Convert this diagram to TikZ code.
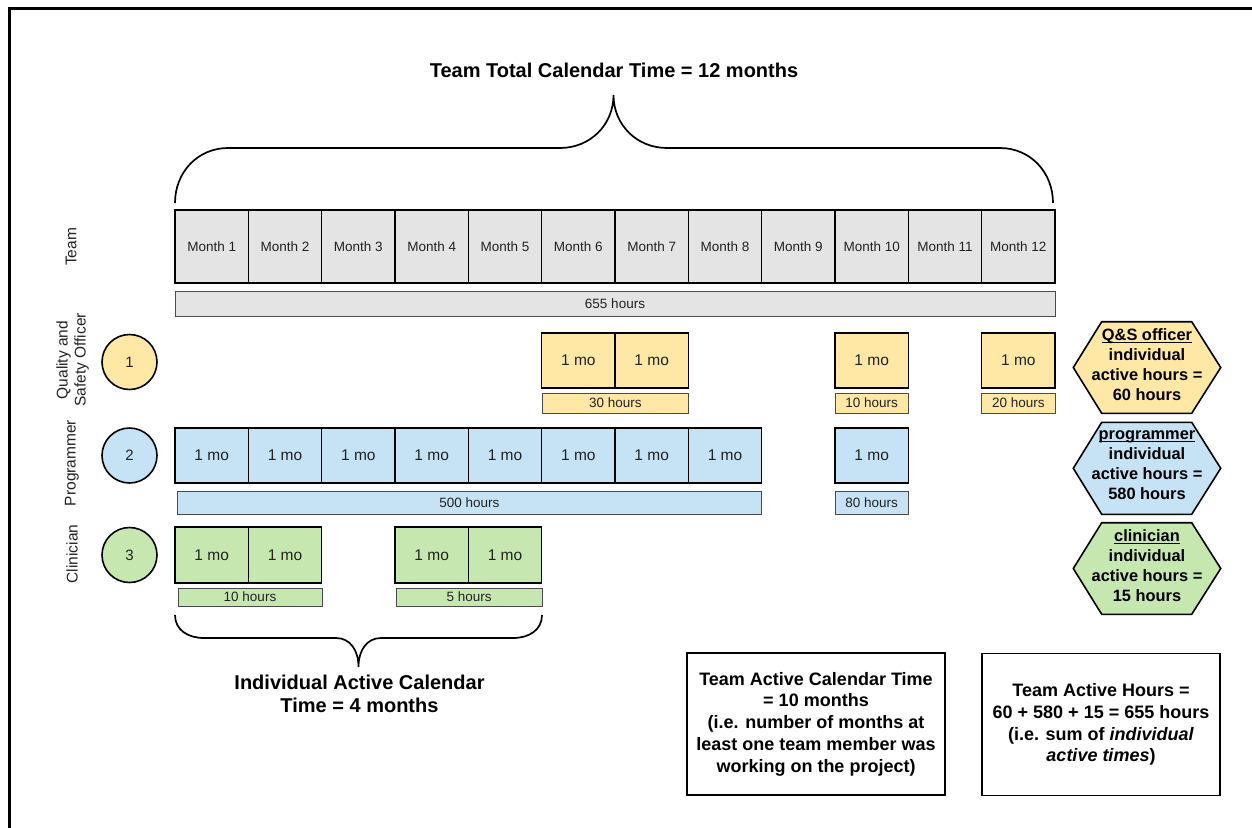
\documentclass[tikz,border=0pt]{standalone}
\usepackage{fontspec}
\setmainfont{Liberation Sans}
\definecolor{greyF}{HTML}{E4E4E4}
\definecolor{yelF}{HTML}{FFE8A6}
\definecolor{bluF}{HTML}{C6E3F6}
\definecolor{grnF}{HTML}{C6E8B0}
\definecolor{barline}{HTML}{4A4A4A}
\definecolor{txt}{HTML}{222222}
\newcommand{\hexul}[1]{\underline{\raisebox{0pt}[\height][0pt]{#1}}}
\tikzset{
  mbox/.style={draw=black, line width=1.6pt, fill=greyF, minimum width=73.33pt, minimum height=73pt, inner sep=0pt, font=\fontsize{13.5}{16}\selectfont, text=txt},
  cell/.style={draw=black, line width=1.6pt, minimum width=73.33pt, minimum height=55pt, inner sep=0pt, font=\fontsize{15.5}{18}\selectfont, text=txt},
  bar/.style={draw=barline, line width=0.9pt, inner sep=0pt, font=\fontsize{13.5}{16}\selectfont, text=txt},
  person/.style={circle, draw=black, line width=1.6pt, minimum size=55pt, inner sep=0pt, font=\fontsize{15}{18}\selectfont, text=txt},
  rolelabel/.style={rotate=90, align=center, font=\fontsize{15.5}{18}\selectfont, text=txt},
  hexline/.style={draw=black, line width=1.6pt},
  hextext/.style={align=center, inner sep=0pt, font=\fontsize{16.4}{20}\selectfont\bfseries},
  infobox/.style={draw=black, line width=1.6pt, align=center, minimum height=142pt, inner sep=0pt, font=\fontsize{18}{21.8}\selectfont\bfseries},
  brace/.style={draw=black, line width=1.7pt},
  bigtext/.style={align=center, inner sep=0pt, font=\fontsize{20}{23.5}\selectfont\bfseries}
}
\begin{document}
\begin{tikzpicture}[x=1pt,y=-1pt]
\useasboundingbox (0,0) rectangle (1252,827);
% frame
\draw[line width=3pt] (9.5,840) -- (9.5,8.5) -- (1262,8.5);

% title and top brace
\node[bigtext] (title) at (614,70) {Team Total Calendar Time = 12 months};
\coordinate (tbL) at (175,203);
\coordinate (tbR) at (1053,203);
\coordinate (tbTip) at (613.5,95);
\draw[brace] (tbL) .. controls (175,172) and (198,148) .. (228,148) -- (560,148)
  .. controls (590,148) and (613.5,125) .. (tbTip)
  .. controls (613.5,125) and (637,148) .. (667,148) -- (1000,148)
  .. controls (1030,148) and (1053,172) .. (tbR);

% left labels
\node[rolelabel] (lteam) at (71,247) {Team};
\node[rolelabel] (lqso) at (72.5,360) {Quality and\\Safety Officer};
\node[rolelabel] (lprog) at (72,463) {Programmer};
\node[rolelabel] (lclin) at (72,554) {Clinician};

% months
\foreach \i in {1,...,12}
  \node[mbox] (m\i) at ({175+73.333*(\i-0.5)},246.5) {Month \i};
\node[bar, fill=greyF, minimum width=880pt, minimum height=25pt] (b655) at (615,303.5) {655 hours};

% circles
\node[person, fill=yelF] (p1) at (129.5,362) {1};
\node[person, fill=bluF] (p2) at (129.5,455.5) {2};
\node[person, fill=grnF] (p3) at (129.5,555) {3};

% QSO row
\foreach \i in {6,7,10,12}
  \node[cell, fill=yelF] (q\i) at ({175+73.333*(\i-0.5)},360.5) {1 mo};
\node[bar, fill=yelF, minimum width=146.5pt, minimum height=20pt] (bq1) at (615.3,403) {30 hours};
\node[bar, fill=yelF, minimum width=73.3pt, minimum height=20pt] (bq2) at (871.7,403) {10 hours};
\node[bar, fill=yelF, minimum width=73.3pt, minimum height=20pt] (bq3) at (1018.3,403) {20 hours};

% Programmer row
\foreach \i in {1,...,8,10}
  \node[cell, fill=bluF] (r\i) at ({175+73.333*(\i-0.5)},455.5) {1 mo};
\node[bar, fill=bluF, minimum width=584.5pt, minimum height=23pt] (br1) at (469.3,502.5) {500 hours};
\node[bar, fill=bluF, minimum width=73.3pt, minimum height=23pt] (br2) at (871.7,502.5) {80 hours};

% Clinician row
\foreach \i in {1,2,4,5}
  \node[cell, fill=grnF, minimum height=56pt] (c\i) at ({175+73.333*(\i-0.5)},555) {1 mo};
\node[bar, fill=grnF, minimum width=144pt, minimum height=18pt] (bc1) at (250,597) {10 hours};
\node[bar, fill=grnF, minimum width=146.5pt, minimum height=18pt] (bc2) at (469.2,597) {5 hours};

% bottom brace
\coordinate (bbL) at (175,615);
\coordinate (bbR) at (542,615);
\coordinate (bbTip) at (358.5,667);
\draw[brace] (bbL) .. controls (175,630) and (188,638) .. (204,638) -- (336,638)
  .. controls (350,638) and (358.5,650) .. (bbTip)
  .. controls (358.5,650) and (367,638) .. (381,638) -- (513,638)
  .. controls (529,638) and (542,630) .. (bbR);
\node[bigtext] (indiv) at (359.5,694) {Individual Active Calendar\\Time = 4 months};

% hexagons
\draw[hexline, fill=yelF] (1073.3,367.5) -- (1101.7,321.7) -- (1191.7,321.7) -- (1220.7,367.5) -- (1191.7,413.3) -- (1101.7,413.3) -- cycle;
\node[hextext] (h1) at (1147,364.5) {\hexul{Q\&S officer}\\individual\\active hours =\\60 hours};
\draw[hexline, fill=bluF] (1073.3,468.3) -- (1101.7,422.3) -- (1191.7,422.3) -- (1220.7,468.3) -- (1191.7,514.3) -- (1101.7,514.3) -- cycle;
\node[hextext] (h2) at (1147,465.5) {\hexul{programmer}\\individual\\active hours =\\580 hours};
\draw[hexline, fill=grnF] (1073.3,568.5) -- (1101.7,522.7) -- (1191.7,522.7) -- (1220.7,568.5) -- (1191.7,614.3) -- (1101.7,614.3) -- cycle;
\node[hextext] (h3) at (1147,565.5) {\hexul{clinician}\\individual\\active hours =\\15 hours};

% info boxes
\node[infobox, minimum width=258pt] (tact) at (816,724) {Team Active Calendar Time\\= 10 months\\(i.e. number of months at\\least one team member was\\working on the project)};
\node[infobox, minimum width=238pt] (thrs) at (1101,724.5) {Team Active Hours =\\60 + 580 + 15 = 655 hours\\(i.e. sum of \textit{individual}\\\textit{active times})};
\end{tikzpicture}
\end{document}
